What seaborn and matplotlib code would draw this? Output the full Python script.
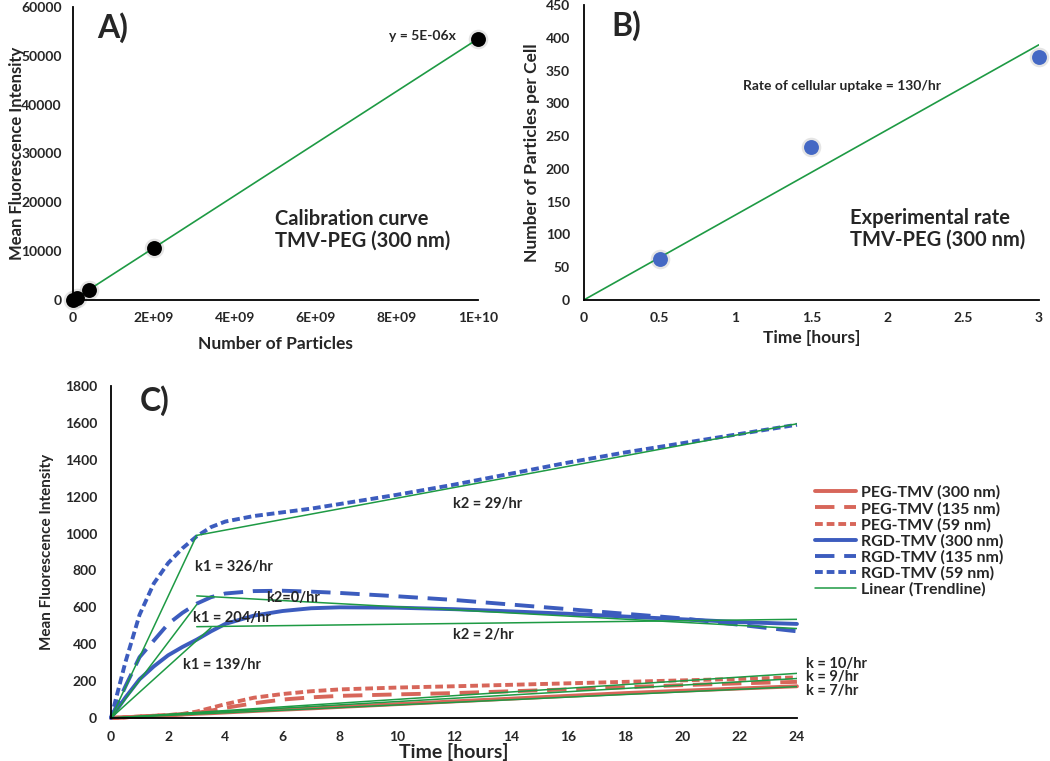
import numpy as np
import pandas as pd
import seaborn as sns
import matplotlib
import matplotlib.pyplot as plt
matplotlib.use('Agg')

# Panel A - calibration curve
calib_particles = [0, 1e8, 4e8, 2e9, 1e10]
calib_mfi = [0, 500, 2050, 10600, 53500]

# Panel B - experimental uptake
uptake_time = [0.5, 1.5, 3]
uptake_particles = [62, 234, 370]

# Panel C - uptake kinetics (time in hours)
time_h = [0, 0.5, 1, 1.5, 2, 2.5, 3, 3.5, 4, 5, 6, 7, 8, 10, 12, 14, 16, 18, 20, 22, 24]
peg_300 = [0, 4, 8, 11, 15, 19, 23, 26, 30, 38, 45, 52, 60, 75, 90, 105, 120, 135, 148, 160, 172]
peg_135 = [0, 4, 8, 12, 16, 20, 28, 40, 55, 80, 100, 112, 120, 128, 135, 145, 155, 167, 178, 188, 196]
peg_59 = [0, 4, 8, 12, 16, 22, 35, 55, 75, 110, 130, 145, 155, 165, 172, 180, 188, 196, 204, 212, 220]
rgd_300 = [0, 110, 210, 280, 340, 385, 425, 470, 510, 555, 580, 595, 600, 598, 590, 578, 565, 550, 535, 520, 510]
rgd_135 = [0, 170, 330, 420, 510, 570, 620, 655, 675, 688, 690, 685, 678, 660, 640, 615, 590, 565, 540, 505, 470]
rgd_59 = [0, 300, 560, 730, 840, 920, 985, 1035, 1065, 1095, 1115, 1135, 1160, 1210, 1265, 1325, 1385, 1440, 1490, 1540, 1590]

series_names = ['PEG-TMV (300 nm)', 'PEG-TMV (135 nm)', 'PEG-TMV (59 nm)',
                'RGD-TMV (300 nm)', 'RGD-TMV (135 nm)', 'RGD-TMV (59 nm)']
series_values = [peg_300, peg_135, peg_59, rgd_300, rgd_135, rgd_59]

# trendline segments (t_start, y_start, t_end, y_end)
trend_segments = [
    (0, 0, 3, 990), (3, 990, 24, 1595),
    (0, 0, 3, 615), (3, 662, 24, 485),
    (0, 0, 3.5, 490), (3, 495, 24, 535),
    (0, 0, 24, 242), (0, 0, 24, 214), (0, 0, 24, 170),
]

RED = '#D7665A'
BLUE = '#3C5CBE'
GREEN = '#1E9A44'

sns.set_style('white')
plt.rcParams['font.family'] = ['Lato', 'DejaVu Sans']
plt.rcParams['font.weight'] = 'bold'
plt.rcParams['axes.labelweight'] = 'bold'

fig = plt.figure(figsize=(10.5, 7.61), dpi=100)
axA = fig.add_axes([0.0695, 0.6058, 0.3857, 0.385])
axB = fig.add_axes([0.556, 0.6058, 0.4333, 0.3876])
axC = fig.add_axes([0.1057, 0.0565, 0.6533, 0.4363])


def style_axis(ax, size=10, ypad=10):
    sns.despine(ax=ax)
    for s in ['left', 'bottom']:
        ax.spines[s].set_color('black')
        ax.spines[s].set_linewidth(1.3)
    ax.tick_params(direction='in', length=4, width=1.3, color='black', labelsize=size)
    ax.tick_params(axis='y', pad=ypad)
    ax.tick_params(axis='x', pad=9)
    plt.setp(ax.get_xticklabels() + ax.get_yticklabels(), fontweight='bold')


# ---- Panel A
dfA = pd.DataFrame({'particles': calib_particles, 'mfi': calib_mfi})
slopeA = (dfA.particles * dfA.mfi).sum() / (dfA.particles ** 2).sum()  # fit through origin
xA = np.array([0, max(calib_particles)])
sns.lineplot(x=xA, y=slopeA * xA, ax=axA, color=GREEN, lw=1.2)
sns.scatterplot(data=dfA, x='particles', y='mfi', ax=axA, s=200, color='grey', alpha=0.2, linewidth=0, clip_on=False)
sns.scatterplot(data=dfA, x='particles', y='mfi', ax=axA, s=115, color='black', linewidth=0, clip_on=False, zorder=5)
axA.set_xlim(0, 1e10)
axA.set_ylim(0, 60000)
axA.set_xticks(np.arange(0, 1.01e10, 2e9))
axA.set_xticklabels(['0', '2E+09', '4E+09', '6E+09', '8E+09', '1E+10'])
axA.set_yticks(np.arange(0, 60001, 10000))
axA.set_xlabel('Number of Particles', fontsize=12.5, labelpad=8)
axA.set_ylabel('Mean Fluorescence Intensity', fontsize=12)
axA.yaxis.set_label_coords(-0.118, 0.5)
style_axis(axA, ypad=8)
axA.text(0.06, 0.93, 'A)', transform=axA.transAxes, fontsize=23, fontweight='bold', va='center')
axA.text(9.45e9, 54100, 'y = 5E-06x', fontsize=10, fontweight='bold', ha='right', va='center')
axA.text(0.5, 0.24, 'Calibration curve\nTMV-PEG (300 nm)', transform=axA.transAxes,
         fontsize=14.5, fontweight='bold', va='center', linespacing=1.1)

# ---- Panel B
dfB = pd.DataFrame({'time': uptake_time, 'particles': uptake_particles})
slopeB = (dfB.time * dfB.particles).sum() / (dfB.time ** 2).sum()
xB = np.array([0, max(uptake_time)])
sns.lineplot(x=xB, y=slopeB * xB, ax=axB, color=GREEN, lw=1.2)
sns.scatterplot(data=dfB, x='time', y='particles', ax=axB, s=200, color='grey', alpha=0.2, linewidth=0, clip_on=False)
sns.scatterplot(data=dfB, x='time', y='particles', ax=axB, s=115, color='#4468C4', linewidth=0, clip_on=False, zorder=5)
axB.set_xlim(0, 3)
axB.set_ylim(0, 450)
axB.set_xticks(np.arange(0, 3.01, 0.5))
axB.set_xticklabels(['0', '0.5', '1', '1.5', '2', '2.5', '3'])
axB.set_yticks(np.arange(0, 451, 50))
axB.set_xlabel('Time [hours]', fontsize=12.5, labelpad=4)
axB.set_ylabel('Number of Particles per Cell', fontsize=12.5, labelpad=4)
style_axis(axB)
axB.text(0.06, 0.93, 'B)', transform=axB.transAxes, fontsize=23, fontweight='bold', va='center')
axB.text(0.35, 0.727, 'Rate of cellular uptake = %d/hr' % round(slopeB, -1), transform=axB.transAxes,
         fontsize=10, fontweight='bold', va='center')
axB.text(0.585, 0.24, 'Experimental rate\nTMV-PEG (300 nm)', transform=axB.transAxes,
         fontsize=14.5, fontweight='bold', va='center', linespacing=1.1)

# ---- Panel C
styles = ['-', (0, (5, 2.5)), (0, (2, 1))]
for i, (name, vals) in enumerate(zip(series_names, series_values)):
    color = RED if i < 3 else BLUE
    sns.lineplot(x=time_h, y=vals, ax=axC, color=color, lw=2.8, linestyle=styles[i % 3],
                 label=name, clip_on=False)
for j, (t0, y0, t1, y1) in enumerate(trend_segments):
    sns.lineplot(x=[t0, t1], y=[y0, y1], ax=axC, color=GREEN, lw=1.1,
                 label='Linear (Trendline)' if j == 0 else None)
axC.set_xlim(0, 24)
axC.set_ylim(0, 1800)
axC.set_xticks(np.arange(0, 25, 2))
axC.set_yticks(np.arange(0, 1801, 200))
axC.set_xlabel('Time [hours]', fontsize=14, labelpad=0)
axC.set_ylabel('Mean Fluorescence Intensity', fontsize=11, labelpad=8)
style_axis(axC)
axC.text(1.0, 1720, 'C)', fontsize=23, fontweight='bold', va='center')
for t, y, txt in [(11.97, 1158, 'k2 = 29/hr'), (2.95, 820, 'k1 = 326/hr'), (5.42, 652, 'k2=0/hr'),
                  (2.87, 540, 'k1 = 204/hr'), (11.95, 450, 'k2 = 2/hr'), (2.52, 288, 'k1 = 139/hr'),
                  (24.3, 295, 'k = 10/hr'), (24.3, 220, 'k = 9/hr'), (24.3, 145, 'k = 7/hr')]:
    axC.text(t, y, txt, fontsize=10.5, fontweight='bold', va='center', ha='left', clip_on=False)
axC.legend(loc='upper left', bbox_to_anchor=(0.776, 0.362), bbox_transform=fig.transFigure,
           frameon=False, handlelength=2.6, handletextpad=0.3, labelspacing=0.1,
           borderpad=0, borderaxespad=0, prop={'size': 11.5, 'weight': 'bold'})

plt.savefig('out.png', dpi=100)
plt.close()
